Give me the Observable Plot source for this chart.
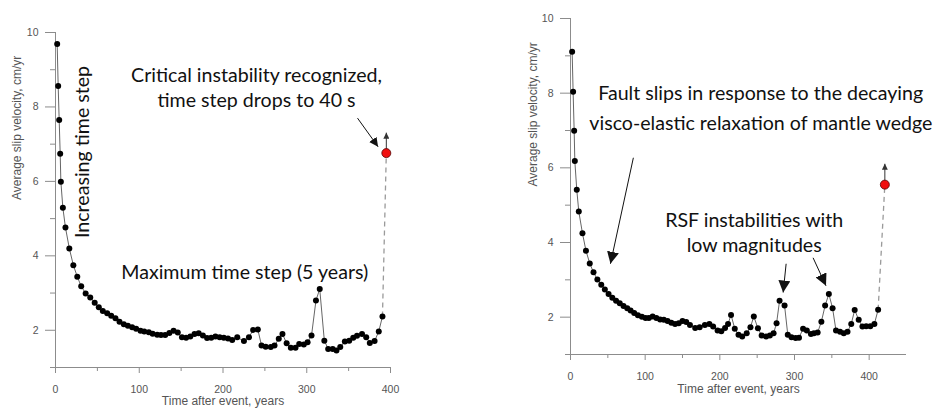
<!DOCTYPE html>
<html>
<head>
<meta charset="utf-8">
<script src="https://cdn.jsdelivr.net/npm/d3@7"></script>
<script src="https://cdn.jsdelivr.net/npm/@observablehq/plot@0.6"></script>
<style>
  html, body { margin: 0; padding: 0; background: #fff; }
  #wrap { position: relative; width: 939px; height: 410px; overflow: hidden; background: #fff; }
  #left, #right { position: absolute; top: 0; }
  #left { left: 0; }
  #right { left: 470px; }
  svg { overflow: visible; }
</style>
</head>
<body>
<div id="wrap"><div id="left"></div><div id="right"></div></div>
<script>
// ---------- data ----------
const leftTime = [2, 3.2, 4.4, 5.6, 6.4, 8.8, 11.9, 16.5, 21.3, 26,
  30.7, 36, 41.5, 46.8, 51.7, 56.5, 61.7, 66.5, 71.6, 76.4,
  81.6, 86.4, 91.5, 96.3, 101.5, 106, 111.4, 116, 121.4, 126,
  131, 136, 141, 146, 151, 156, 161, 166, 171, 176,
  181, 186, 191, 196, 201, 206, 211, 217, 225, 231,
  236, 241.6, 246, 251, 257, 261.5, 266.6, 271, 276, 281,
  286.6, 291, 296.5, 301, 305.7, 311, 315.5, 321, 325.6, 331,
  335.5, 340, 345.5, 350.7, 355.5, 360, 366, 371, 375.3, 381,
  386, 390.4];
const leftVelocity = [9.69, 8.56, 7.65, 6.74, 5.99, 5.29, 4.76, 4.2, 3.75, 3.44,
  3.18, 2.99, 2.88, 2.74, 2.62, 2.52, 2.46, 2.39, 2.32, 2.23,
  2.16, 2.12, 2.08, 2.04, 1.99, 1.97, 1.95, 1.91, 1.88, 1.87,
  1.87, 1.93, 1.99, 1.94, 1.81, 1.80, 1.83, 1.90, 1.92, 1.86,
  1.79, 1.80, 1.83, 1.81, 1.80, 1.78, 1.74, 1.81, 1.71, 1.81,
  2.01, 2.02, 1.59, 1.56, 1.55, 1.59, 1.77, 1.90, 1.65, 1.53,
  1.53, 1.63, 1.62, 1.68, 1.86, 2.80, 3.11, 1.72, 1.50, 1.50,
  1.46, 1.55, 1.70, 1.72, 1.80, 1.85, 1.90, 1.81, 1.66, 1.71,
  1.97, 2.37];

const rightTime = [2.2, 3.5, 4.9, 5.8, 8.4, 11.1, 16, 20.7, 25.8, 30.8,
  36, 41.2, 46, 51, 56, 61, 66, 71, 76, 80.5,
  85.3, 90.3, 95.6, 100.5, 105, 110, 115, 120, 125, 130,
  135, 140, 145, 150, 155, 160, 167, 173, 180, 186,
  191, 197, 202, 207, 211, 215, 220, 225, 230, 236,
  241, 245.5, 251, 256, 262, 267, 272, 276, 280, 286.7,
  291, 296, 301.5, 306, 311.5, 316.5, 322, 326, 331, 336,
  341, 346, 351, 355.6, 361, 366, 371, 376, 380.6, 386,
  391, 396, 401.5, 407, 412];
const rightVelocity = [9.11, 8.04, 6.99, 6.18, 5.41, 4.83, 4.25, 3.78, 3.44, 3.2,
  3.01, 2.87, 2.74, 2.62, 2.52, 2.44, 2.37, 2.30, 2.24, 2.18,
  2.11, 2.05, 2.01, 1.98, 1.98, 2.02, 1.98, 1.94, 1.93, 1.90,
  1.85, 1.82, 1.84, 1.90, 1.87, 1.79, 1.71, 1.73, 1.79, 1.82,
  1.75, 1.64, 1.62, 1.71, 1.82, 2.06, 1.69, 1.53, 1.48, 1.57,
  1.73, 2.02, 1.70, 1.51, 1.48, 1.51, 1.57, 1.84, 2.44, 2.31,
  1.53, 1.46, 1.44, 1.45, 1.69, 1.64, 1.55, 1.57, 1.59, 1.88,
  2.31, 2.62, 2.24, 1.64, 1.61, 1.57, 1.61, 1.82, 2.19, 1.93,
  1.75, 1.76, 1.76, 1.82, 2.20];

const yMajorTicks = [2, 4, 6, 8, 10];
const yMinorTicks = [1, 3, 5, 7, 9];
const xMajorTicks = [0, 100, 200, 300, 400];
const xMinorTicks = [50, 150, 250, 350];
const xTitle = "Time after event, years";
const yTitle = "Average slip velocity, cm/yr";

// critical jump (red point) and its upward arrow end
const leftJump = {t: 395, v: 6.76, top: 7.31};
const rightJump = {t: 421, v: 5.55, top: 6.11};

// annotations (data coordinates)
const leftNotes = [
  {t: 240, v: 8.83, label: "Critical instability recognized,"},
  {t: 240, v: 8.16, label: "time step drops to 40 s"},
  {t: 226, v: 3.55, label: "Maximum time step (5 years)"}
];
const leftRotatedNotes = [
  {t: 32.2, v: 6.79, label: "Increasing time step"}
];
const leftArrows = [
  {x1: 360.6, y1: 7.70, x2: 385.2, y2: 6.93, head: 9}
];
const rightNotes = [
  {t: 254.7, v: 7.98, label: "Fault slips in response to the decaying"},
  {t: 255, v: 7.18, label: "visco-elastic relaxation of mantle wedge"},
  {t: 246, v: 4.58, label: "RSF instabilities with"},
  {t: 246, v: 3.91, label: "low magnitudes"}
];
const rightRotatedNotes = [];
const rightArrows = [
  {x1: 84.2, y1: 6.27, x2: 53.5, y2: 3.43, head: 12},
  {x1: 288.8, y1: 3.43, x2: 284.8, y2: 2.66, head: 12},
  {x1: 324.9, y1: 3.59, x2: 342.2, y2: 2.84, head: 12}
];

// ---------- drawing ----------
const noteFont = "Lato, 'Open Sans', 'Noto Sans', sans-serif";
const axisFont = "'Liberation Sans', Arial, sans-serif";
const axisStroke = "#8c8c8c";

function panel(o) {
  const pts = o.time.map((t, i) => ({t, v: o.vel[i]}));
  const last = pts[pts.length - 1];
  const jumpLink = [{x1: last.t, y1: last.v, x2: o.jump.t, y2: o.jump.v}];
  const arrows = [...o.arrows,
    {x1: o.jump.t, y1: o.jump.v, x2: o.jump.t, y2: o.jump.top, head: 6, stroke: "#333"}];

  const marks = [
    Plot.ruleY([1], {stroke: axisStroke}),
    Plot.ruleX([0], {stroke: axisStroke}),
    Plot.axisY({ticks: yMajorTicks, tickSize: 10, tickPadding: 7, label: null,
      stroke: axisStroke, fill: "#555", fontSize: 10.5}),
    Plot.axisY({ticks: yMinorTicks, tickSize: 5, tickFormat: () => "", label: null,
      stroke: axisStroke}),
    Plot.axisX({ticks: xMajorTicks, tickSize: 6, tickPadding: 12, label: null,
      stroke: axisStroke, fill: "#555", fontSize: 10.5}),
    Plot.axisX({ticks: xMinorTicks, tickSize: 4, tickFormat: () => "", label: null,
      stroke: axisStroke}),
    Plot.text([xTitle], {text: d => d, frameAnchor: "bottom", dy: o.xTitleDy,
      fontSize: 12, fill: "#555"}),
    Plot.text([yTitle], {text: d => d, frameAnchor: "left", dx: o.yTitleDx, rotate: -90,
      fontSize: 12, fill: "#555"}),
    Plot.link(jumpLink, {x1: "x1", y1: "y1", x2: "x2", y2: "y2",
      stroke: "#9a9a9a", strokeWidth: 1.3, strokeDasharray: "5,4"}),
    ...arrows.map(a => Plot.link([a], {x1: "x1", y1: "y1", x2: "x2", y2: "y2",
      stroke: a.stroke || "#111", strokeWidth: 1})),
    Plot.line(pts, {x: "t", y: "v", stroke: "#666", strokeWidth: 1}),
    Plot.dot(pts, {x: "t", y: "v", r: 3, fill: "#000"}),
    Plot.dot([o.jump], {x: "t", y: "v", r: 4.5, fill: "#f01010", stroke: "#500", strokeWidth: 0.8}),
    Plot.text(o.notes, {x: "t", y: "v", text: "label", fontFamily: noteFont,
      fontSize: 19.6, fill: "#111"}),
    Plot.text(o.rotated, {x: "t", y: "v", text: "label", rotate: -90, fontFamily: noteFont,
      fontSize: 19.6, fill: "#111"})
  ];

  const plot = Plot.plot({
    width: o.width, height: 410,
    marginLeft: o.marginLeft, marginRight: o.marginRight,
    marginTop: o.marginTop, marginBottom: o.marginBottom,
    x: {domain: o.xDomain},
    y: {domain: [1, 10]},
    style: {fontFamily: axisFont, fontSize: "11px", color: "#555", background: "transparent", overflow: "visible"},
    marks
  });

  // filled arrowheads
  const svg = d3.select(plot);
  const defs = svg.insert("defs", ":first-child");
  const linkGroups = svg.selectAll('g[aria-label="link"]').nodes();
  arrows.forEach((a, i) => {
    const id = `${o.id}-head-${i}`;
    defs.append("marker")
      .attr("id", id)
      .attr("viewBox", "0 0 10 10")
      .attr("refX", 10).attr("refY", 5)
      .attr("markerUnits", "userSpaceOnUse")
      .attr("markerWidth", a.head).attr("markerHeight", a.head)
      .attr("orient", "auto")
      .append("path").attr("d", "M0,0L10,5L0,10Z").attr("fill", a.stroke || "#111");
    d3.select(linkGroups[i + 1]).selectAll("path").attr("marker-end", `url(#${id})`);
  });
  return plot;
}

document.getElementById("left").append(panel({
  id: "L", width: 470, marginLeft: 55, marginRight: 80, marginTop: 32, marginBottom: 43,
  xDomain: [0, 400], time: leftTime, vel: leftVelocity, jump: leftJump,
  arrows: leftArrows, notes: leftNotes, rotated: leftRotatedNotes,
  xTitleDy: 37, yTitleDx: -38
}));
document.getElementById("right").append(panel({
  id: "R", width: 469, marginLeft: 100, marginRight: 33, marginTop: 18, marginBottom: 56,
  xDomain: [0, 450], time: rightTime, vel: rightVelocity, jump: rightJump,
  arrows: rightArrows, notes: rightNotes, rotated: rightRotatedNotes,
  xTitleDy: 38, yTitleDx: -37
}));
</script>
</body>
</html>
